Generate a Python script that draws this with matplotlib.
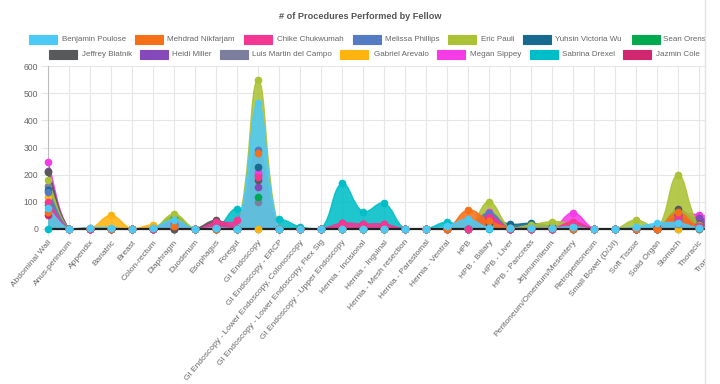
import numpy as np
import matplotlib
matplotlib.use("Agg")
import matplotlib.pyplot as plt
from matplotlib.path import Path
from matplotlib.patches import PathPatch, Rectangle
from matplotlib.lines import Line2D

plt.rcParams['font.family'] = ['Liberation Sans', 'DejaVu Sans']

title = "# of Procedures Performed by Fellow"

categories = ["Abdominal Wall", "Anus-perineum", "Appendix", "Bariatric", "Breast",
              "Colon-rectum", "Diaphragm", "Duodenum", "Esophagus", "Foregut",
              "GI Endoscopy", "GI Endoscopy - ERCP",
              "GI Endoscopy - Lower Endoscopy, Colonoscopy",
              "GI Endoscopy - Lower Endoscopy, Flex Sig",
              "GI Endoscopy - Upper Endoscopy", "Hernia - Incisional", "Hernia - Inguinal",
              "Hernia - Mesh resection", "Hernia - Parastomal", "Hernia - Ventral", "HPB",
              "HPB - Biliary", "HPB - Liver", "HPB - Pancreas", "Jejunum/Ileum",
              "Peritoneum/Omentum/Mesentery", "Retroperitoneum", "Small Bowel (D/J/I)",
              "Soft Tissue", "Solid Organ", "Stomach", "Thoracic", "Transplant"]

fellows = ["Benjamin Poulose", "Mehdrad Nikfarjam", "Chike Chukwumah", "Melissa Phillips",
           "Eric Pauli", "Yuhsin Victoria Wu", "Sean Orenstein", "Jeffrey Blatnik",
           "Heidi Miller", "Luis Martin del Campo", "Gabriel Arevalo", "Megan Sippey",
           "Sabrina Drexel", "Jazmin Cole"]

colors = ["#4dc9f6", "#f67019", "#f53794", "#537bc4", "#acc236", "#166a8f", "#00a950",
          "#58595b", "#8549ba", "#7d7e9e", "#ffb30f", "#f53be6", "#00bec8", "#d12670"]

#             0    1  2   3  4   5   6  7   8   9   10  11 12 13   14  15  16 17 18  19  20   21  22  23  24  25 26 27  28  29   30  31  32
benjamin = [76,   0, 5,  5, 0,  5, 33, 0,  5,  0, 463,  0, 0, 0,   0,  0,  0, 0, 0, 10, 36,   4,  2,  4,  4,  8, 0, 0,  8, 21,  23,  4,  4]
mehdrad  = [64,   0, 3,  0, 0,  3, 10, 0,  0,  0, 279,  0, 0, 0,   0,  0,  0, 0, 0,  0, 70,  30,  5,  5,  5,  0, 0, 0,  0,  0,  62,  5,  5]
chike    = [100,  0, 0,  0, 0,  0, 25, 0, 25, 33, 193,  0, 0, 0,  21, 18, 18, 0, 0,  0,  0,  45,  0,  0,  0, 27, 0, 0,  0,  0,  45, 10,  5]
melissa  = [138,  0, 0,  0, 0,  0, 20, 0,  0,  0, 291,  0, 0, 0,   0,  0,  0, 0, 0,  0,  0,  60,  0,  0,  0,  0, 0, 0,  0,  0,  30, 10,  5]
eric     = [180,  0, 3,  0, 0,  0, 55, 0,  5,  0, 548,  0, 0, 0,   0,  0,  0, 0, 0,  0,  0, 100,  5, 15, 27, 20, 0, 0, 33,  0, 200, 15,  5]
yuhsin   = [143,  0, 0,  0, 0,  0, 15, 0,  0,  0, 229,  0, 0, 0,   0,  0,  0, 0, 0,  0,  0,  40, 18, 21, 10,  0, 0, 0,  0, 10,  50,  5,  0]
sean     = [90,   0, 0,  0, 0,  0, 45, 0,  0,  0, 119,  0, 0, 0,   0,  0,  0, 0, 0,  0,  0,  35,  0,  0,  0, 15, 0, 0,  0,  0,  35,  5,  0]
jeffrey  = [211,  0, 0,  0, 0,  0,  0, 0, 32,  0, 180,  0, 0, 0,   0,  0,  0, 0, 0,  0,  0,  20,  0,  0,  0,  0, 0, 0,  0,  0,  72, 20, 10]
heidi    = [215,  0, 0,  0, 0,  0,  0, 0,  0,  0, 153,  0, 0, 0,   0,  0,  0, 0, 0,  0,  0,  50,  0,  0,  0, 20, 0, 0,  0,  0,  40, 40, 20]
luis     = [160,  0, 0,  0, 0,  0,  0, 0,  0,  0,  99,  0, 0, 0,   0,  0,  0, 0, 0,  0,  0,  25,  0,  0,  0,  0, 0, 0,  0,  0,  20,  0,  0]
gabriel  = [119,  0, 0, 50, 0, 15,  0, 0,  0,  0,   0,  0, 0, 0,   0,  0,  0, 0, 0,  0,  0,  10,  0,  0,  0,  0, 0, 0,  0,  0,   0,  0,  0]
megan    = [245,  0, 0,  0, 0,  0,  0, 0,  0,  0, 209,  0, 0, 0,   0,  0,  0, 0, 0,  0,  0,  64,  0,  0,  0, 60, 0, 0,  0,  0,  55, 52, 40]
sabrina  = [0,    0, 0,  0, 0,  0,  0, 0,  0, 75,   0, 35, 8, 0, 168, 64, 95, 0, 0, 25,  0,   0,  0,  0,  0,  0, 0, 0,  0,  0,   0,  0,  0]
jazmin   = [50,   0, 0,  0, 0,  0,  0, 0, 25,  0, 200,  0, 0, 0,  21, 18, 18, 0, 0,  0,  0,  40,  0,  0,  0, 20, 0, 0,  0,  0,  50,  5,  0]

series = [benjamin, mehdrad, chike, melissa, eric, yuhsin, sean, jeffrey, heidi, luis,
          gabriel, megan, sabrina, jazmin]

yticks = [0, 100, 200, 300, 400, 500, 600]

W, H = 720, 384
fig = plt.figure(figsize=(W / 100, H / 100), dpi=100)
ax_l, ax_r, ax_t, ax_b = 48, 720, 66, 229
ax = fig.add_axes([ax_l / W, (H - ax_b) / H, (ax_r - ax_l) / W, (ax_b - ax_t) / H])
ax.set_xlim(0, len(categories) - 1)
ax.set_ylim(0, 600)

# pixel scales, used for the Chart.js-like bezier tension
sx = (ax_r - ax_l) / (len(categories) - 1)
sy = (ax_b - ax_t) / 600.0


def spline_path(vals, tension=0.4):
    xs = np.arange(len(vals), dtype=float)
    ys = np.asarray(vals, dtype=float)
    px, py = xs * sx, ys * sy
    n = len(xs)
    cpp, cpn = [], []
    for i in range(n):
        ip, inx = max(i - 1, 0), min(i + 1, n - 1)
        d01 = np.hypot(px[i] - px[ip], py[i] - py[ip])
        d12 = np.hypot(px[inx] - px[i], py[inx] - py[i])
        tot = d01 + d12
        s01 = d01 / tot if tot else 0
        s12 = d12 / tot if tot else 0
        fa, fb = tension * s01, tension * s12
        dx, dy = px[inx] - px[ip], py[inx] - py[ip]
        a = (px[i] - fa * dx, py[i] - fa * dy)
        b = (px[i] + fb * dx, py[i] + fb * dy)
        cpp.append((a[0] / sx, min(max(a[1] / sy, 0), 600)))
        cpn.append((b[0] / sx, min(max(b[1] / sy, 0), 600)))
    verts = [(xs[0], ys[0])]
    codes = [Path.MOVETO]
    for i in range(n - 1):
        verts += [cpn[i], cpp[i + 1], (xs[i + 1], ys[i + 1])]
        codes += [Path.CURVE4] * 3
    return verts, codes, xs, ys


# datasets drawn last-to-first: each one's fill then its border line
n = len(series)
for k in reversed(range(n)):
    verts, codes, xs, ys = spline_path(series[k])
    fv = verts + [(xs[-1], 0), (xs[0], 0), (xs[0], ys[0])]
    fc = codes + [Path.LINETO, Path.LINETO, Path.CLOSEPOLY]
    z = 2 + (n - k) * 0.1
    ax.add_patch(PathPatch(Path(fv, fc), facecolor=colors[k], edgecolor='none',
                           alpha=0.88, zorder=z))
    ax.add_patch(PathPatch(Path(verts, codes), facecolor='none', edgecolor=colors[k],
                           linewidth=1.0, alpha=0.9, zorder=z + 0.05))
for k in reversed(range(n)):
    xs = np.arange(len(series[k]))
    ax.plot(xs, series[k], linestyle='none', marker='o', markersize=4.5,
            markerfacecolor=colors[k], markeredgecolor=colors[k],
            zorder=6 + (n - k) * 0.01, clip_on=False)

ax.set_xticks(np.arange(len(categories)))
ax.set_xticklabels(categories, rotation=50, ha='right', rotation_mode='anchor',
                   fontsize=6, color='#666666')
ax.set_yticks(yticks)
ax.set_yticklabels([str(v) for v in yticks], fontsize=6.2, color='#666666')
ax.grid(True, color='#e6e6e6', linewidth=0.8, zorder=0)
ax.set_axisbelow(True)
ax.tick_params(axis='both', length=5, color='#e6e6e6', width=0.8, pad=2)
for s in ['top', 'right']:
    ax.spines[s].set_visible(False)
ax.spines['left'].set_color('#bdbdbd')
ax.spines['left'].set_linewidth(0.8)
ax.spines['bottom'].set_color('#222222')
ax.spines['bottom'].set_linewidth(1.6)
ax.spines['bottom'].set_zorder(5)

fig.text(360 / W, 1 - 16.5 / H, title, ha='center', va='center', fontsize=6.6,
         fontweight='bold', color='#555555')

# legend (two centred rows, as laid out in the reference)
row1 = [(29, 62), (135, 167), (244, 277), (353, 385), (448, 481), (523, 555), (632, 663)]
row2 = [(49, 82), (140, 172), (220, 252), (340, 374), (437, 470), (530, 562), (623, 656)]
pos = [(bx, tx, 39.5) for bx, tx in row1] + [(bx, tx, 54.5) for bx, tx in row2]
for k, (bx, tx, yc) in enumerate(pos):
    fig.add_artist(Rectangle((bx / W, 1 - (yc + 4.5) / H), 28 / W, 9 / H,
                             transform=fig.transFigure, facecolor=colors[k],
                             edgecolor=colors[k], linewidth=0.8))
    fig.text(tx / W, 1 - yc / H, fellows[k], ha='left', va='center', fontsize=5.8,
             color='#666666')

# container edge that clips the chart on the right, as in the reference
fig.add_artist(Rectangle((705 / W, 0), 15 / W, 1, transform=fig.transFigure,
                         facecolor='white', edgecolor='none', zorder=100))
fig.add_artist(Line2D([705 / W, 705 / W], [0, 1], transform=fig.transFigure,
                      color='#e4e4e4', linewidth=1, zorder=101))

fig.savefig("out.png", dpi=100)
